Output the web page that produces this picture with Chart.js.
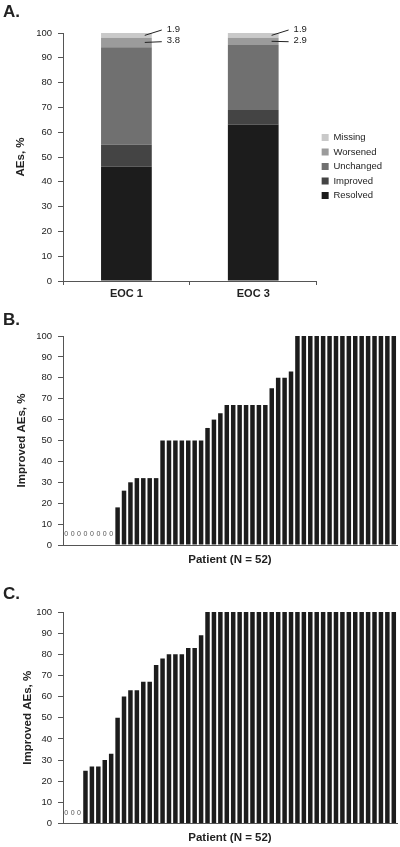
<!DOCTYPE html>
<html>
<head>
<meta charset="utf-8">
<script src="https://cdn.jsdelivr.net/npm/chart.js@4"></script>
<style>
  body { margin: 0; background: #fff; }
  #wrap { position: relative; width: 400px; height: 847px; font-family: "Liberation Sans", Arial, sans-serif; }
  .panel { position: absolute; left: 0; width: 400px; }
  .tag { position: absolute; left: 3px; font-weight: bold; font-size: 17px; line-height: 1; color: #222; }
</style>
</head>
<body>
<div id="wrap">
  <div class="panel" style="top:0;height:300px"><canvas id="chartA"></canvas></div>
  <div class="panel" style="top:300px;height:267px"><canvas id="chartB"></canvas></div>
  <div class="panel" style="top:567px;height:278px"><canvas id="chartC"></canvas></div>
  <div class="tag" style="top:3px">A.</div>
  <div class="tag" style="top:311px">B.</div>
  <div class="tag" style="top:585px">C.</div>
</div>
<script>
"use strict";

// panel A - outcome of AEs at each visit (% of AEs)
const visits = ['EOC 1', 'EOC 3'];
const resolved = [46.2, 63.1];
const improved = [8.7, 5.9];
const unchanged = [39.4, 26.2];
const worsened = [3.8, 2.9];
const missing = [1.9, 1.9];

// panels B and C - % improved AEs per patient, sorted
const improvedB = [0, 0, 0, 0, 0, 0, 0, 0,
  18, 26, 30, 32, 32, 32, 32,
  50, 50, 50, 50, 50, 50, 50,
  56, 60, 63,
  67, 67, 67, 67, 67, 67, 67,
  75, 80, 80, 83,
  100, 100, 100, 100, 100, 100, 100, 100, 100, 100, 100, 100, 100, 100, 100, 100];
const improvedC = [0, 0, 0,
  25, 27, 27, 30, 33, 50, 60, 63, 63, 67, 67, 75, 78, 80, 80, 80, 83, 83, 89,
  100, 100, 100, 100, 100, 100, 100, 100, 100, 100, 100, 100, 100, 100, 100,
  100, 100, 100, 100, 100, 100, 100, 100, 100, 100, 100, 100, 100, 100, 100];

const FONT = '"Liberation Sans", Arial, sans-serif';
Chart.defaults.font.family = FONT;
Chart.defaults.color = '#222';

function yAxis(titleText, titleGap) {
  return {
    min: 0,
    max: 100,
    ticks: { stepSize: 10, color: '#222', font: { size: 9.5 }, padding: 6 },
    grid: { drawOnChartArea: false, color: '#555', tickLength: 5 },
    border: { color: '#555' },
    title: {
      display: true, text: titleText, color: '#222',
      font: { size: 11.5, weight: 'bold' },
      padding: { top: titleGap, bottom: 0 }
    },
    afterFit(scale) { scale.width = 63; }
  };
}

// little leader lines with the values of the two thin top segments
const callouts = {
  id: 'callouts',
  afterDatasetsDraw(chart) {
    const ctx = chart.ctx;
    ctx.save();
    ctx.strokeStyle = '#222';
    ctx.fillStyle = '#222';
    ctx.lineWidth = 1;
    ctx.font = '9.5px ' + FONT;
    ctx.textBaseline = 'middle';
    [[4, -4], [3, 3]].forEach(([di, dy]) => {
      const ds = chart.data.datasets[di];
      chart.getDatasetMeta(di).data.forEach((bar, i) => {
        const right = bar.x + bar.width / 2;
        const mid = (bar.y + bar.base) / 2;
        const ty = bar.y + dy;
        ctx.beginPath();
        ctx.moveTo(right - 7, mid);
        ctx.lineTo(right + 10, ty + 1);
        ctx.stroke();
        ctx.fillText(ds.data[i].toFixed(1), right + 15, ty);
      });
    });
    ctx.restore();
  }
};

new Chart(document.getElementById('chartA'), {
  type: 'bar',
  data: {
    labels: visits,
    datasets: [
      { label: 'Resolved', data: resolved, backgroundColor: '#1c1c1c' },
      { label: 'Improved', data: improved, backgroundColor: '#444444' },
      { label: 'Unchanged', data: unchanged, backgroundColor: '#707070' },
      { label: 'Worsened', data: worsened, backgroundColor: '#9b9b9b' },
      { label: 'Missing', data: missing, backgroundColor: '#c9c9c9' }
    ].map(d => Object.assign(d, { barPercentage: 0.4, categoryPercentage: 1 }))
  },
  options: {
    responsive: true,
    maintainAspectRatio: false,
    animation: false,
    layout: { padding: { top: 33, right: 8, left: 0, bottom: 0 } },
    plugins: {
      legend: {
        position: 'right',
        reverse: true,
        labels: { boxWidth: 7, boxHeight: 7, padding: 5, color: '#222', font: { size: 9.5 } }
      },
      tooltip: { enabled: false }
    },
    scales: {
      x: {
        stacked: true,
        ticks: { color: '#222', font: { size: 11, weight: 'bold' }, padding: 2 },
        grid: { drawOnChartArea: false, color: '#555', tickLength: 4 },
        border: { color: '#555' },
        afterFit(scale) { scale.height = 19; }
      },
      y: Object.assign({ stacked: true }, yAxis('AEs, %', 14))
    }
  },
  plugins: [callouts]
});

// the patients with 0% get a small "0" instead of a bar
const zeroMarks = {
  id: 'zeroMarks',
  afterDatasetsDraw(chart) {
    const { ctx, scales: { x, y } } = chart;
    ctx.save();
    ctx.fillStyle = '#555';
    ctx.font = '7px ' + FONT;
    ctx.textAlign = 'center';
    ctx.textBaseline = 'middle';
    chart.data.datasets[0].data.forEach((v, i) => {
      if (v === 0) ctx.fillText('0', x.getPixelForValue(i), y.getPixelForValue(5));
    });
    ctx.restore();
  }
};

function patientChart(id, values, titleGap, topPad, xHeight) {
  return new Chart(document.getElementById(id), {
    type: 'bar',
    data: {
      labels: values.map((_, i) => String(i + 1)),
      datasets: [{
        data: values,
        backgroundColor: '#1c1c1c',
        barPercentage: 1,
        categoryPercentage: 0.7
      }]
    },
    options: {
      responsive: true,
      maintainAspectRatio: false,
      animation: false,
      layout: { padding: { top: topPad, right: 3, left: 0, bottom: 0 } },
      plugins: { legend: { display: false }, tooltip: { enabled: false } },
      scales: {
        x: {
          ticks: { display: false },
          grid: { display: false },
          border: { color: '#555' },
          title: {
            display: true, text: 'Patient (N = 52)', color: '#222',
            font: { size: 11.5, weight: 'bold' }, padding: 0
          },
          afterFit(scale) { scale.height = xHeight; }
        },
        y: yAxis('Improved AEs, %', titleGap)
      }
    },
    plugins: [zeroMarks]
  });
}

patientChart('chartB', improvedB, 15, 36, 22);
patientChart('chartC', improvedC, 21, 45, 21.5);
</script>
</body>
</html>
